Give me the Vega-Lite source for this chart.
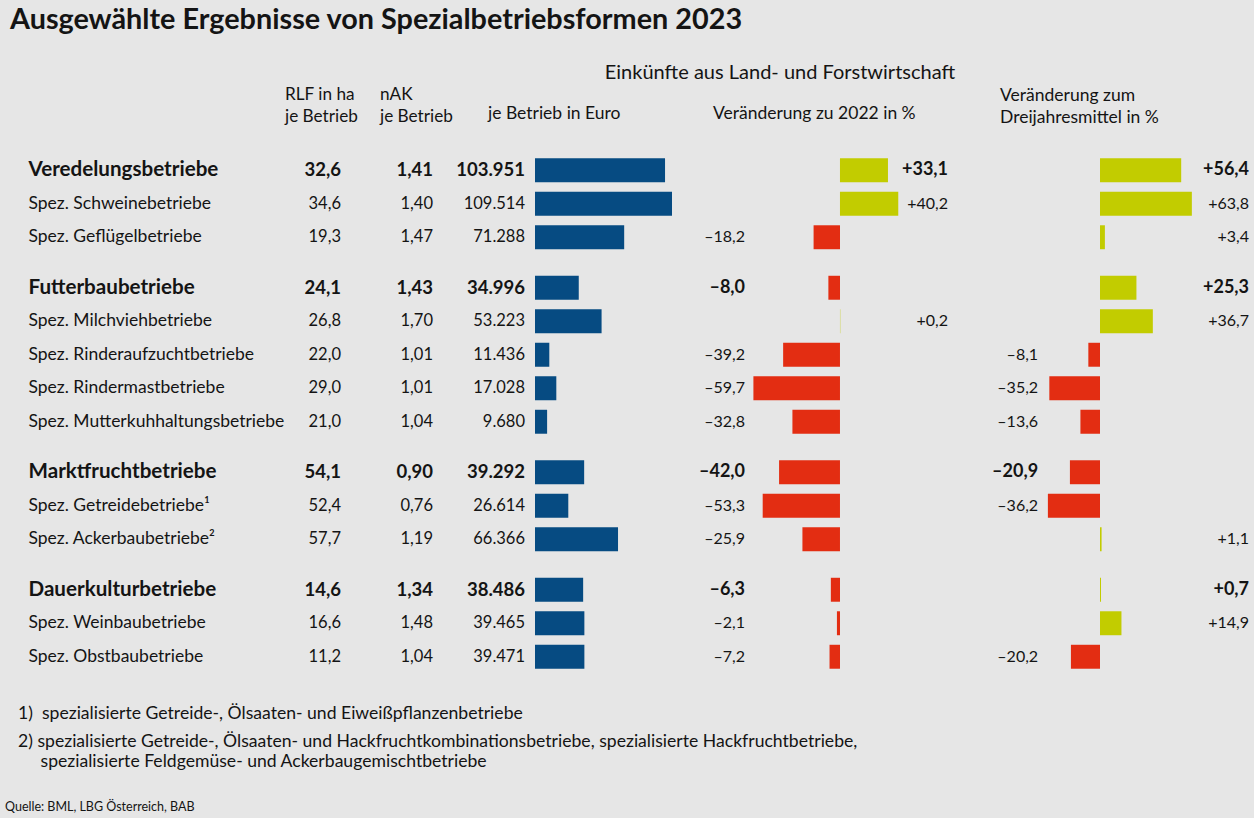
{
  "$schema": "https://vega.github.io/schema/vega-lite/v6.json",
  "background": "#e6e6e6",
  "padding": {"left": 5, "top": 5, "right": 4, "bottom": 4},
  "title": {"text": "Quelle: BML, LBG Österreich, BAB", "orient": "bottom", "anchor": "start", "dx": -5, "offset": 30, "fontSize": 12.5, "fontWeight": "normal", "color": "#141414", "font": "Lato"},
  "datasets": {
    "tabelle": [
      {"Gruppe": "Veredelungsbetriebe", "Betriebsform": "Veredelungsbetriebe", "RLF": 32.6, "nAK": 1.41, "Euro": 103951, "V22": 33.1, "V3": 56.4},
      {"Gruppe": "Veredelungsbetriebe", "Betriebsform": "Spez. Schweinebetriebe", "RLF": 34.6, "nAK": 1.40, "Euro": 109514, "V22": 40.2, "V3": 63.8},
      {"Gruppe": "Veredelungsbetriebe", "Betriebsform": "Spez. Geflügelbetriebe", "RLF": 19.3, "nAK": 1.47, "Euro": 71288, "V22": -18.2, "V3": 3.4},
      {"Gruppe": "Futterbaubetriebe", "Betriebsform": "Futterbaubetriebe", "RLF": 24.1, "nAK": 1.43, "Euro": 34996, "V22": -8.0, "V3": 25.3},
      {"Gruppe": "Futterbaubetriebe", "Betriebsform": "Spez. Milchviehbetriebe", "RLF": 26.8, "nAK": 1.70, "Euro": 53223, "V22": 0.2, "V3": 36.7},
      {"Gruppe": "Futterbaubetriebe", "Betriebsform": "Spez. Rinderaufzuchtbetriebe", "RLF": 22.0, "nAK": 1.01, "Euro": 11436, "V22": -39.2, "V3": -8.1},
      {"Gruppe": "Futterbaubetriebe", "Betriebsform": "Spez. Rindermastbetriebe", "RLF": 29.0, "nAK": 1.01, "Euro": 17028, "V22": -59.7, "V3": -35.2},
      {"Gruppe": "Futterbaubetriebe", "Betriebsform": "Spez. Mutterkuhhaltungsbetriebe", "RLF": 21.0, "nAK": 1.04, "Euro": 9680, "V22": -32.8, "V3": -13.6},
      {"Gruppe": "Marktfruchtbetriebe", "Betriebsform": "Marktfruchtbetriebe", "RLF": 54.1, "nAK": 0.90, "Euro": 39292, "V22": -42.0, "V3": -20.9},
      {"Gruppe": "Marktfruchtbetriebe", "Betriebsform": "Spez. Getreidebetriebe¹", "RLF": 52.4, "nAK": 0.76, "Euro": 26614, "V22": -53.3, "V3": -36.2},
      {"Gruppe": "Marktfruchtbetriebe", "Betriebsform": "Spez. Ackerbaubetriebe²", "RLF": 57.7, "nAK": 1.19, "Euro": 66366, "V22": -25.9, "V3": 1.1},
      {"Gruppe": "Dauerkulturbetriebe", "Betriebsform": "Dauerkulturbetriebe", "RLF": 14.6, "nAK": 1.34, "Euro": 38486, "V22": -6.3, "V3": 0.7},
      {"Gruppe": "Dauerkulturbetriebe", "Betriebsform": "Spez. Weinbaubetriebe", "RLF": 16.6, "nAK": 1.48, "Euro": 39465, "V22": -2.1, "V3": 14.9},
      {"Gruppe": "Dauerkulturbetriebe", "Betriebsform": "Spez. Obstbaubetriebe", "RLF": 11.2, "nAK": 1.04, "Euro": 39471, "V22": -7.2, "V3": -20.2}
    ]
  },
  "spacing": 17.5,
  "vconcat": [
    {
      "width": 1222,
      "height": 78,
      "data": {"values": [{}]},
      "title": {"text": "Ausgewählte Ergebnisse von Spezialbetriebsformen 2023", "anchor": "start", "dx": -18, "fontSize": 28.8, "fontWeight": "bold", "offset": 23.5, "color": "#141414", "font": "Lato"},
      "layer": [
        {
          "layer": [
            {"mark": {"type": "text", "align": "left", "dx": -56, "dy": -2, "fontSize": 17.2, "lineHeight": 22, "color": "#141414"},
             "encoding": {"x": {"datum": "RLF", "type": "nominal", "scale": {"type": "point", "domain": ["RLF", "nAK", "Euro"], "range": [313, 497], "padding": 0}, "axis": null},
                          "text": {"value": ["RLF in ha", "je Betrieb"]}}},
            {"mark": {"type": "text", "align": "left", "dx": -53, "dy": -2, "fontSize": 17.2, "lineHeight": 22, "color": "#141414"},
             "encoding": {"x": {"datum": "nAK", "type": "nominal", "axis": null},
                          "text": {"value": ["nAK", "je Betrieb"]}}},
            {"mark": {"type": "text", "align": "left", "dx": -37, "dy": 17, "fontSize": 17.5, "color": "#141414"},
             "encoding": {"x": {"datum": "Euro", "type": "nominal", "axis": null},
                          "text": {"value": "je Betrieb in Euro"}}}
          ]
        },
        {
          "layer": [
            {"mark": {"type": "text", "align": "left", "dx": -127, "dy": 17, "fontSize": 17.5, "color": "#141414"},
             "encoding": {"x": {"datum": 0, "type": "quantitative", "scale": {"domain": [-65.5, 74.5], "range": [717, 920], "nice": false, "zero": false}, "axis": null},
                          "text": {"value": "Veränderung zu 2022 in %"}}},
            {"mark": {"type": "text", "align": "center", "dx": -60, "dy": -24, "fontSize": 20, "color": "#141414"},
             "encoding": {"x": {"datum": 0, "type": "quantitative", "axis": null},
                          "text": {"value": "Einkünfte aus Land- und Forstwirtschaft"}}}
          ]
        },
        {"mark": {"type": "text", "align": "left", "dx": -100, "dy": -1, "fontSize": 17.5, "lineHeight": 22, "color": "#141414"},
         "encoding": {"x": {"datum": 0, "type": "quantitative", "scale": {"domain": [-43, 103.5], "range": [1010.1, 1221], "nice": false, "zero": false}, "axis": null},
                      "text": {"value": ["Veränderung zum", "Dreijahresmittel in %"]}}}
      ],
      "resolve": {"scale": {"x": "independent"}}
    },
    {
      "data": {"name": "tabelle"},
      "title": {
        "text": "1)\u00a0\u00a0spezialisierte Getreide-, Ölsaaten- und Eiweißpflanzenbetriebe",
        "subtitle": ["2) spezialisierte Getreide-, Ölsaaten- und Hackfruchtkombinationsbetriebe, spezialisierte Hackfruchtbetriebe,", "\u200b\u00a0\u00a0\u00a0\u00a0\u00a0spezialisierte Feldgemüse- und Ackerbaugemischtbetriebe"],
        "orient": "bottom", "anchor": "start", "dx": -10, "offset": 31,
        "fontSize": 17.6, "fontWeight": "normal", "color": "#141414", "font": "Lato",
        "subtitleFontSize": 17.6, "subtitleLineHeight": 20, "subtitlePadding": 11, "subtitleColor": "#141414", "subtitleFont": "Lato"
      },
      "facet": {"row": {"field": "Gruppe", "type": "nominal", "sort": ["Veredelungsbetriebe", "Futterbaubetriebe", "Marktfruchtbetriebe", "Dauerkulturbetriebe"], "header": null}},
      "spacing": {"row": 16.5},
      "resolve": {"scale": {"y": "independent"}},
      "spec": {
        "width": 1222,
        "height": {"step": 33.5},
        "encoding": {
          "y": {"field": "Betriebsform", "type": "nominal", "sort": null,
                "scale": {"paddingInner": 0.285, "paddingOuter": 0.1425},
                "axis": {"title": null, "orient": "left", "domain": false, "ticks": false, "tickSize": 0, "labelPadding": 0, "labelAlign": "left", "labelLimit": 400, "labelColor": "#141414", "labelFont": "Lato", "minExtent": 0, "maxExtent": 0,
                         "labelFontSize": {"condition": {"test": "indexof(datum.value, 'Spez.') < 0", "value": 20.6}, "value": 17.5},
                         "labelFontWeight": {"condition": {"test": "indexof(datum.value, 'Spez.') < 0", "value": "bold"}, "value": "normal"}}}
        },
        "layer": [
          {
            "layer": [
              {"mark": {"type": "text", "align": "right", "color": "#141414", "fontWeight": {"expr": "indexof(datum.Betriebsform, 'Spez.') < 0 ? 'bold' : 'normal'"}},
               "encoding": {"x": {"datum": "RLF", "type": "nominal", "scale": {"type": "point", "domain": ["RLF", "nAK", "Euro"], "range": [313, 497], "padding": 0}, "axis": null},
                            "text": {"field": "RLF", "type": "quantitative", "format": ".1f"},
                            "size": {"condition": {"test": "indexof(datum.Betriebsform, 'Spez.') < 0", "value": 18.5}, "value": 16.5}}},
              {"mark": {"type": "text", "align": "right", "color": "#141414", "fontWeight": {"expr": "indexof(datum.Betriebsform, 'Spez.') < 0 ? 'bold' : 'normal'"}},
               "encoding": {"x": {"datum": "nAK", "type": "nominal", "axis": null},
                            "text": {"field": "nAK", "type": "quantitative", "format": ".2f"},
                            "size": {"condition": {"test": "indexof(datum.Betriebsform, 'Spez.') < 0", "value": 18.5}, "value": 16.5}}},
              {"mark": {"type": "text", "align": "right", "color": "#141414", "fontWeight": {"expr": "indexof(datum.Betriebsform, 'Spez.') < 0 ? 'bold' : 'normal'"}},
               "encoding": {"x": {"datum": "Euro", "type": "nominal", "axis": null},
                            "text": {"field": "Euro", "type": "quantitative", "format": ",.0f"},
                            "size": {"condition": {"test": "indexof(datum.Betriebsform, 'Spez.') < 0", "value": 18.5}, "value": 16.5}}}
            ]
          },
          {"mark": {"type": "bar", "color": "#064b82"},
           "encoding": {"x": {"field": "Euro", "type": "quantitative", "scale": {"domain": [0, 100000], "range": [507, 632.1], "nice": false}, "axis": null}}},
          {
            "layer": [
              {"mark": {"type": "bar"},
               "encoding": {"x": {"field": "V22", "type": "quantitative", "scale": {"domain": [-65.5, 74.5], "range": [717, 920], "nice": false, "zero": false}, "axis": null},
                            "color": {"condition": {"test": "datum.V22 < 0", "value": "#e32d12"}, "value": "#c2cc00"}}},
              {"transform": [{"filter": "datum.V22 >= 0"}],
               "mark": {"type": "text", "align": "right", "color": "#141414", "fontWeight": {"expr": "indexof(datum.Betriebsform, 'Spez.') < 0 ? 'bold' : 'normal'"}},
               "encoding": {"x": {"datum": 74.5, "type": "quantitative", "axis": null},
                            "text": {"field": "V22", "type": "quantitative", "format": "+.1f"},
                            "size": {"condition": {"test": "indexof(datum.Betriebsform, 'Spez.') < 0", "value": 18}, "value": 16}}},
              {"transform": [{"filter": "datum.V22 < 0"}],
               "mark": {"type": "text", "align": "right", "color": "#141414", "fontWeight": {"expr": "indexof(datum.Betriebsform, 'Spez.') < 0 ? 'bold' : 'normal'"}},
               "encoding": {"x": {"datum": -65.5, "type": "quantitative", "axis": null},
                            "text": {"field": "V22", "type": "quantitative", "format": "+.1f"},
                            "size": {"condition": {"test": "indexof(datum.Betriebsform, 'Spez.') < 0", "value": 18}, "value": 16}}}
            ]
          },
          {
            "layer": [
              {"mark": {"type": "bar"},
               "encoding": {"x": {"field": "V3", "type": "quantitative", "scale": {"domain": [-43, 103.5], "range": [1010.1, 1221], "nice": false, "zero": false}, "axis": null},
                            "color": {"condition": {"test": "datum.V3 < 0", "value": "#e32d12"}, "value": "#c2cc00"}}},
              {"transform": [{"filter": "datum.V3 >= 0"}],
               "mark": {"type": "text", "align": "right", "color": "#141414", "fontWeight": {"expr": "indexof(datum.Betriebsform, 'Spez.') < 0 ? 'bold' : 'normal'"}},
               "encoding": {"x": {"datum": 103.5, "type": "quantitative", "axis": null},
                            "text": {"field": "V3", "type": "quantitative", "format": "+.1f"},
                            "size": {"condition": {"test": "indexof(datum.Betriebsform, 'Spez.') < 0", "value": 18}, "value": 16}}},
              {"transform": [{"filter": "datum.V3 < 0"}],
               "mark": {"type": "text", "align": "right", "color": "#141414", "fontWeight": {"expr": "indexof(datum.Betriebsform, 'Spez.') < 0 ? 'bold' : 'normal'"}},
               "encoding": {"x": {"datum": -43, "type": "quantitative", "axis": null},
                            "text": {"field": "V3", "type": "quantitative", "format": "+.1f"},
                            "size": {"condition": {"test": "indexof(datum.Betriebsform, 'Spez.') < 0", "value": 18}, "value": 16}}}
            ]
          }
        ],
        "resolve": {"scale": {"x": "independent"}}
      }
    }
  ],
  "config": {
    "font": "Lato",
    "view": {"stroke": null},
    "locale": {"number": {"decimal": ",", "thousands": ".", "grouping": [3], "currency": ["", " €"], "minus": "–"}},
    "text": {"font": "Lato"}
  }
}
